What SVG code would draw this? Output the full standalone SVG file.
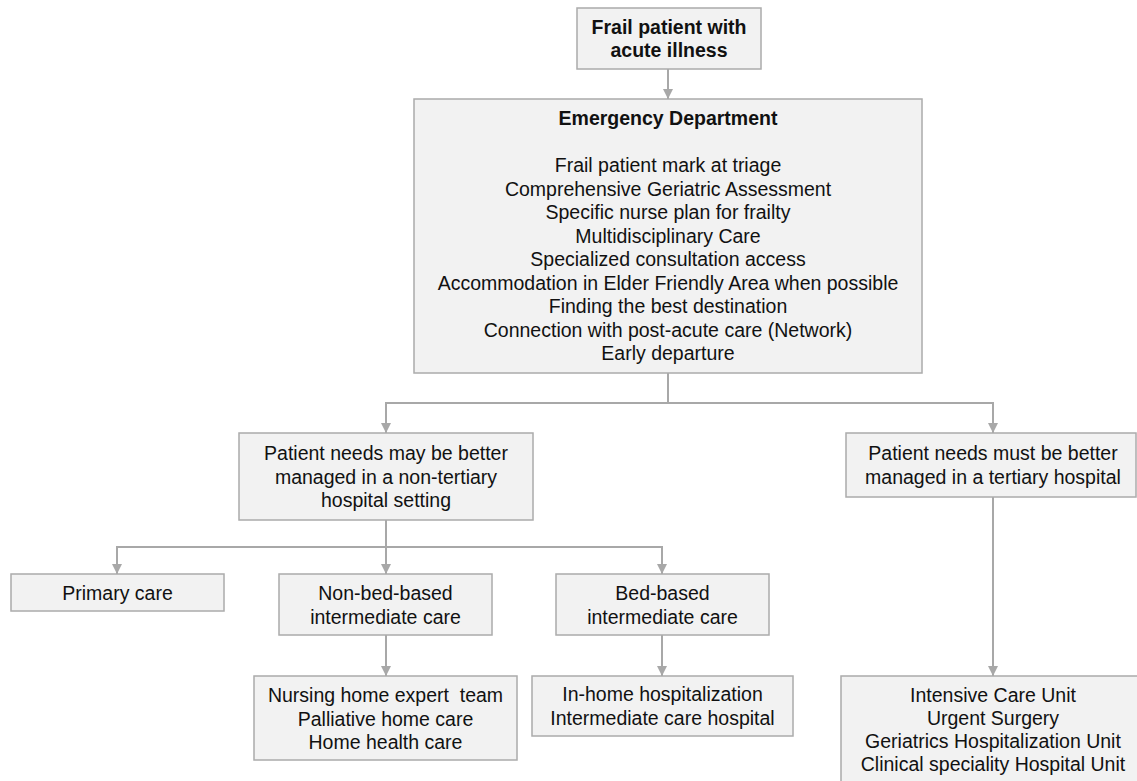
<svg xmlns="http://www.w3.org/2000/svg" width="1137" height="781" viewBox="0 0 1137 781">
<style>
.box{fill:#f2f2f2;stroke:#ababab;stroke-width:1.5}
.t{font-family:"Liberation Sans",Arial,Helvetica,sans-serif;font-size:19.5px;fill:#111;text-anchor:middle}
.b{font-weight:bold}
.c{fill:none;stroke:#a8a8a8;stroke-width:2}
</style>
<defs>
<marker id="ah" markerUnits="userSpaceOnUse" markerWidth="10" markerHeight="10" refX="10" refY="5" orient="auto">
<path d="M0,0 L10,5 L0,10 z" fill="#a8a8a8"/>
</marker>
</defs>
<g id="connectors">
<path class="c" d="M668,69 V99" marker-end="url(#ah)"/>
<path class="c" d="M668,373 V403"/>
<path class="c" d="M668,403 H386 V433" marker-end="url(#ah)"/>
<path class="c" d="M668,403 H993 V433" marker-end="url(#ah)"/>
<path class="c" d="M386,520 V547"/>
<path class="c" d="M386,547 H117 V574" marker-end="url(#ah)"/>
<path class="c" d="M386,547 V574" marker-end="url(#ah)"/>
<path class="c" d="M386,547 H662 V574" marker-end="url(#ah)"/>
<path class="c" d="M386,635 V676" marker-end="url(#ah)"/>
<path class="c" d="M662,635 V676" marker-end="url(#ah)"/>
<path class="c" d="M993,497 V676" marker-end="url(#ah)"/>
</g>
<g id="frail">
<rect class="box" x="577" y="8" width="184" height="61"/>
<text class="t b" x="669" y="34">Frail patient with</text>
<text class="t b" x="669" y="57">acute illness</text>
</g>
<g id="ed">
<rect class="box" x="414" y="99" width="508" height="274"/>
<text class="t b" x="668" y="125">Emergency Department</text>
<text class="t" x="668" y="172">Frail patient mark at triage</text>
<text class="t" x="668" y="195.5">Comprehensive Geriatric Assessment</text>
<text class="t" x="668" y="219">Specific nurse plan for frailty</text>
<text class="t" x="668" y="242.5">Multidisciplinary Care</text>
<text class="t" x="668" y="266">Specialized consultation access</text>
<text class="t" x="668" y="289.5">Accommodation in Elder Friendly Area when possible</text>
<text class="t" x="668" y="313">Finding the best destination</text>
<text class="t" x="668" y="336.5">Connection with post-acute care (Network)</text>
<text class="t" x="668" y="360">Early departure</text>
</g>
<g id="nontertiary">
<rect class="box" x="239" y="433" width="294" height="87"/>
<text class="t" x="386" y="460">Patient needs may be better</text>
<text class="t" x="386" y="483.5">managed in a non-tertiary</text>
<text class="t" x="386" y="507">hospital setting</text>
</g>
<g id="tertiary">
<rect class="box" x="846" y="433" width="290" height="64"/>
<text class="t" x="993" y="460">Patient needs must be better</text>
<text class="t" x="993" y="483.5">managed in a tertiary hospital</text>
</g>
<g id="primary">
<rect class="box" x="11" y="574" width="213" height="37"/>
<text class="t" x="117.5" y="599.5">Primary care</text>
</g>
<g id="nonbed">
<rect class="box" x="279" y="574" width="213" height="61"/>
<text class="t" x="385.5" y="600">Non-bed-based</text>
<text class="t" x="385.5" y="623.5">intermediate care</text>
</g>
<g id="bed">
<rect class="box" x="556" y="574" width="213" height="61"/>
<text class="t" x="662.5" y="600">Bed-based</text>
<text class="t" x="662.5" y="623.5">intermediate care</text>
</g>
<g id="nursing">
<rect class="box" x="254" y="676" width="263" height="84"/>
<text class="t" x="385.5" y="702" style="white-space:pre" xml:space="preserve">Nursing home expert  team</text>
<text class="t" x="385.5" y="725.5">Palliative home care</text>
<text class="t" x="385.5" y="749">Home health care</text>
</g>
<g id="inhome">
<rect class="box" x="532" y="676" width="261" height="60"/>
<text class="t" x="662.5" y="701">In-home hospitalization</text>
<text class="t" x="662.5" y="724.5">Intermediate care hospital</text>
</g>
<g id="icu">
<rect class="box" x="841" y="676" width="304" height="115"/>
<text class="t" x="993" y="702">Intensive Care Unit</text>
<text class="t" x="993" y="725">Urgent Surgery</text>
<text class="t" x="993" y="748">Geriatrics Hospitalization Unit</text>
<text class="t" x="993" y="771">Clinical speciality Hospital Unit</text>
</g>
</svg>
